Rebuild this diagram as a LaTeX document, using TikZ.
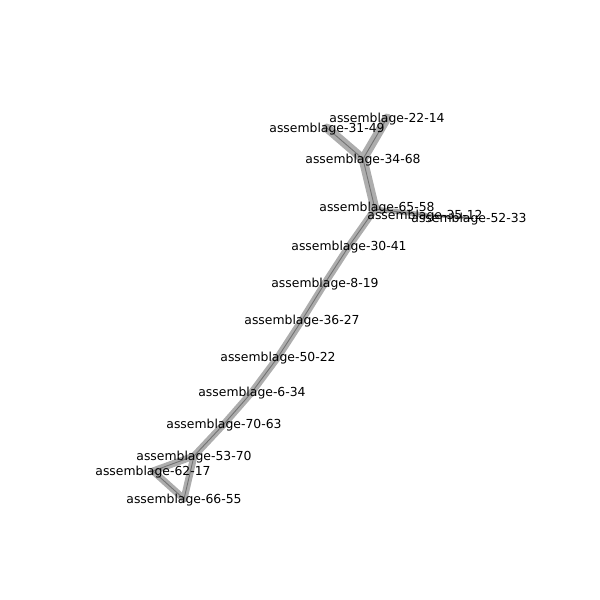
\documentclass[tikz,border=0pt]{standalone}
\usepackage{fontspec}
\setmainfont{DejaVu Sans}
\begin{document}
\begin{tikzpicture}[x=1pt,y=-1pt,
  lbl/.style={inner sep=0pt,font=\fontsize{12.4}{14}\selectfont},
  band/.style={draw=black!32,line width=#1,line cap=round},
  core/.style={draw=black!55,line width=0.9pt}]
\useasboundingbox (0,0) rectangle (600,600);
\coordinate (n2214) at (387,118);
\coordinate (n3149) at (327,128);
\coordinate (n3468) at (363,159);
\coordinate (n6558) at (375,209);
\coordinate (n3512) at (425,215);
\coordinate (n5233) at (469,218);
\coordinate (n3041) at (349,246);
\coordinate (n819) at (325,283);
\coordinate (n3627) at (302,320);
\coordinate (n5022) at (278,357);
\coordinate (n634) at (252,392);
\coordinate (n7063) at (224,424);
\coordinate (n5370) at (194,456);
\coordinate (n6217) at (153,471);
\coordinate (n6655) at (184,499);
% bands
\foreach \a/\b/\w in {n2214/n3468/9,n3149/n3468/9,n3468/n6558/9,n6558/n3512/5,n3512/n5233/3,
  n6558/n3041/7,n3041/n819/7,n819/n3627/7,n3627/n5022/7,n5022/n634/7,n634/n7063/7,n7063/n5370/7,
  n5370/n6217/7,n6217/n6655/7,n6655/n5370/7}
  \draw[band=\w pt] (\a) -- (\b);
\foreach \a/\b in {n2214/n3468,n3149/n3468,n3468/n6558,n6558/n3512,n3512/n5233,
  n6558/n3041,n3041/n819,n819/n3627,n3627/n5022,n5022/n634,n634/n7063,n7063/n5370,
  n5370/n6217,n6217/n6655,n6655/n5370}
  \draw[core] (\a) -- (\b);
% labels
\node[lbl] (l2214) at (387,119) {assemblage-22-14};
\node[lbl] (l3149) at (327,129) {assemblage-31-49};
\node[lbl] (l3468) at (363,160) {assemblage-34-68};
\node[lbl] (l6558) at (377,208) {assemblage-65-58};
\node[lbl] (l3512) at (425,216) {assemblage-35-12};
\node[lbl] (l5233) at (469,219) {assemblage-52-33};
\node[lbl] (l3041) at (349,247) {assemblage-30-41};
\node[lbl] (l819) at (325,284) {assemblage-8-19};
\node[lbl] (l3627) at (302,321) {assemblage-36-27};
\node[lbl] (l5022) at (278,358) {assemblage-50-22};
\node[lbl] (l634) at (252,393) {assemblage-6-34};
\node[lbl] (l7063) at (224,425) {assemblage-70-63};
\node[lbl] (l5370) at (194,457) {assemblage-53-70};
\node[lbl] (l6217) at (153,472) {assemblage-62-17};
\node[lbl] (l6655) at (184,500) {assemblage-66-55};
\end{tikzpicture}
\end{document}
